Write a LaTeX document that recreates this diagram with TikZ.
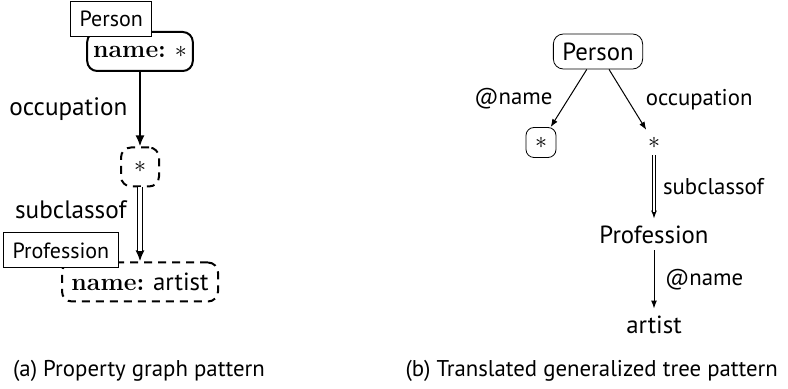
\documentclass[tikz,border=0pt]{standalone}
\usepackage{fontspec}
\newfontfamily\biosans{PT Sans}
\usetikzlibrary{positioning, arrows.meta}

\begin{document}
\begin{tikzpicture}[node distance=57.5pt,
		every node/.style={font=\biosans\fontsize{12.4}{14}\selectfont},
		propbox/.style={draw, rounded corners=5pt, line width=1pt, minimum height=19.5pt, inner xsep=3pt},
		dashbox/.style={propbox, dash pattern=on 4pt off 3pt},
		tagbox/.style={draw, fill=white, line width=0.5pt, minimum height=17.5pt, inner xsep=4.5pt, font=\biosans\fontsize{11}{13}\selectfont},
		biglabel/.style={font=\biosans\fontsize{12.6}{14}\selectfont},
		smalllabel/.style={font=\biosans\fontsize{11.4}{13}\selectfont},
		caption/.style={font=\biosans\fontsize{11.4}{13}\selectfont},
		thickarrow/.style={line width=1pt, -{Latex[length=5.5pt,width=4.5pt]}},
		thinarrow/.style={line width=0.5pt, -{Latex[length=4pt,width=3pt]}},
		twoline/.style={double, line width=0.75pt, double distance=1.6pt}]
		\useasboundingbox (0,0) rectangle (394pt,-194.5pt);
		
		% Property graph pattern
		\node (pname) [propbox] at (70pt,-25.75pt) {{\rmfamily\bfseries name:} $\ast$};
		\node (pocc) [below of=pname, node distance=57.75pt, dashbox, minimum width=19pt] {$\ast$};
		\node (pprof) [below of=pocc, dashbox, minimum width=78pt] {{\rmfamily\bfseries name:} artist};
		\node (pperson) [tagbox, anchor=south west] at ([shift={(-8pt,-3pt)}]pname.north west) {Person};
		\node (pproftag) [tagbox, anchor=south west] at ([shift={(-29pt,-3.5pt)}]pprof.north west) {Profession};
		
		% Translated tree pattern
		\node (tperson) [draw, rounded corners=5pt, minimum height=17.5pt, inner xsep=4.5pt] at (299pt,-25.75pt) {Person};
		\node (tname) [below of=tperson, node distance=45.5pt, xshift=-28.5pt, draw, rounded corners=4pt, minimum size=15pt, inner sep=1pt] {$\ast$};
		\node (tocc) [below of=tperson, node distance=45.5pt, xshift=28pt] {$\ast$};
		\node (tprof) [below of=tocc, node distance=46pt] {Profession};
		\node (tartist) [below of=tprof, node distance=45pt] {artist};
		
		% Connect the nodes with arrows
		\draw[thickarrow] (pname) -- node[midway, left=2.5pt, biglabel] {occupation} (pocc);
		\draw[thickarrow] (pocc) -- (pprof);
		\draw[twoline, shorten >=5pt] (pocc) -- node[pos=0.3, left=3pt, biglabel] {subclassof} (pprof);
		\draw[thinarrow] (tperson) -- node[midway, left=4.5pt, smalllabel] {@name} (tname);
		\draw[thinarrow] (tperson) -- node[midway, right=5.5pt, smalllabel] {occupation} (tocc);
		\draw[thinarrow] (tocc) -- (tprof);
		\draw[twoline, line width=0.4pt, double distance=1.4pt, shorten >=3.5pt] (tocc) -- node[midway, right=1pt, smalllabel] {subclassof} (tprof);
		\draw[thinarrow] (tprof) -- node[midway, right=2pt, smalllabel] {@name} (tartist);
		
		% Captions
		\node (capa) [caption, anchor=base west] at (3pt,-188.5pt) {(a) Property graph pattern};
		\node (capb) [caption, anchor=base east] at (392.5pt,-188.5pt) {(b) Translated generalized tree pattern};
	\end{tikzpicture}
\end{document}
